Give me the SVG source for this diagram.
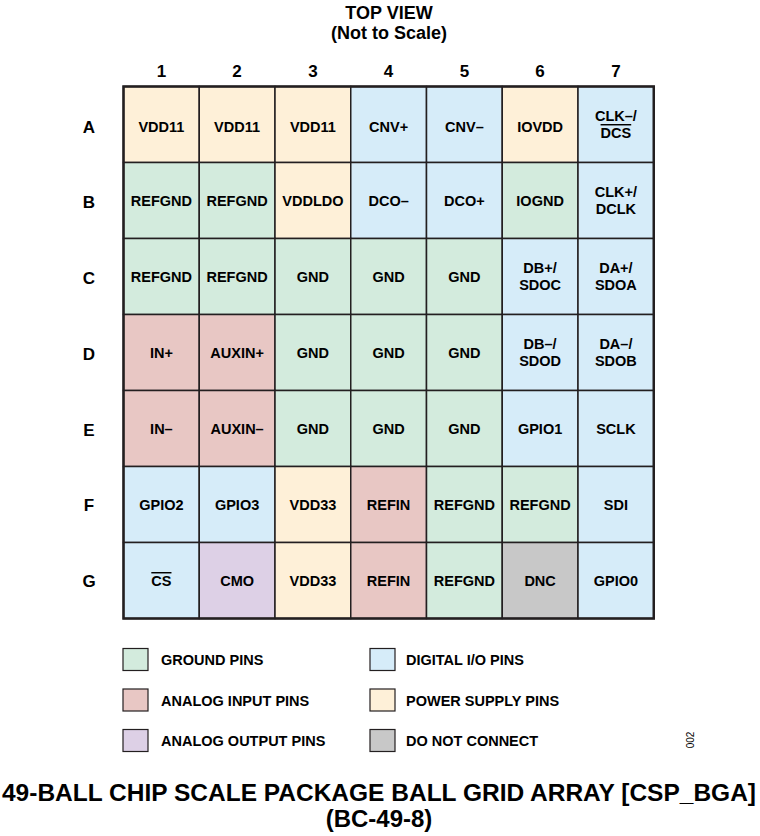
<svg xmlns="http://www.w3.org/2000/svg" width="760" height="836" viewBox="0 0 760 836">
<style>
text{font-family:"Liberation Sans",Arial,sans-serif;font-weight:bold;fill:#000}
.c{font-size:14.5px;text-anchor:middle}
.h{font-size:17px;text-anchor:middle}
.t{font-size:18px;text-anchor:middle}
.l{font-size:14.5px}
.cell{stroke:#231f20;stroke-width:1.5}
.pw{fill:#fef0d8}
.gd{fill:#d3ebdd}
.dg{fill:#d6ecf9}
.ai{fill:#e8c7c4}
.ao{fill:#ddd0e6}
.nc{fill:#c8c8c8}
.lb{stroke:#231f20;stroke-width:1.2}
.ov{text-decoration:overline}
</style>
<g id="title">
<text class="t" x="389" y="19">TOP VIEW</text>
<text class="t" x="389" y="39">(Not to Scale)</text>
</g>
<g id="col-labels">
<text class="h" x="161.4" y="77">1</text>
<text class="h" x="237.1" y="77">2</text>
<text class="h" x="312.9" y="77">3</text>
<text class="h" x="388.6" y="77">4</text>
<text class="h" x="464.4" y="77">5</text>
<text class="h" x="540.1" y="77">6</text>
<text class="h" x="615.9" y="77">7</text>
</g>
<g id="row-labels">
<text class="h" x="89" y="133">A</text>
<text class="h" x="89" y="208">B</text>
<text class="h" x="89" y="284">C</text>
<text class="h" x="89" y="360">D</text>
<text class="h" x="89" y="436">E</text>
<text class="h" x="89" y="511">F</text>
<text class="h" x="89" y="587">G</text>
</g>
<g id="grid">
<g id="A1"><rect class="cell pw" x="123.5" y="86.5" width="75.75" height="76"/><text class="c" x="161.4" y="132">VDD11</text></g>
<g id="A2"><rect class="cell pw" x="199.25" y="86.5" width="75.75" height="76"/><text class="c" x="237.1" y="132">VDD11</text></g>
<g id="A3"><rect class="cell pw" x="275" y="86.5" width="75.75" height="76"/><text class="c" x="312.9" y="132">VDD11</text></g>
<g id="A4"><rect class="cell dg" x="350.75" y="86.5" width="75.75" height="76"/><text class="c" x="388.6" y="132">CNV+</text></g>
<g id="A5"><rect class="cell dg" x="426.5" y="86.5" width="75.75" height="76"/><text class="c" x="464.4" y="132">CNV–</text></g>
<g id="A6"><rect class="cell pw" x="502.25" y="86.5" width="75.75" height="76"/><text class="c" x="540.1" y="132">IOVDD</text></g>
<g id="A7"><rect class="cell dg" x="578" y="86.5" width="75.75" height="76"/><text class="c" x="615.9" y="121">CLK–/</text><text class="c ov" x="615.9" y="138">DCS</text></g>

<g id="B1"><rect class="cell gd" x="123.5" y="162.5" width="75.75" height="76"/><text class="c" x="161.4" y="206">REFGND</text></g>
<g id="B2"><rect class="cell gd" x="199.25" y="162.5" width="75.75" height="76"/><text class="c" x="237.1" y="206">REFGND</text></g>
<g id="B3"><rect class="cell pw" x="275" y="162.5" width="75.75" height="76"/><text class="c" x="312.9" y="206">VDDLDO</text></g>
<g id="B4"><rect class="cell dg" x="350.75" y="162.5" width="75.75" height="76"/><text class="c" x="388.6" y="206">DCO–</text></g>
<g id="B5"><rect class="cell dg" x="426.5" y="162.5" width="75.75" height="76"/><text class="c" x="464.4" y="206">DCO+</text></g>
<g id="B6"><rect class="cell gd" x="502.25" y="162.5" width="75.75" height="76"/><text class="c" x="540.1" y="206">IOGND</text></g>
<g id="B7"><rect class="cell dg" x="578" y="162.5" width="75.75" height="76"/><text class="c" x="615.9" y="197">CLK+/</text><text class="c" x="615.9" y="214">DCLK</text></g>

<g id="C1"><rect class="cell gd" x="123.5" y="238.5" width="75.75" height="76"/><text class="c" x="161.4" y="282">REFGND</text></g>
<g id="C2"><rect class="cell gd" x="199.25" y="238.5" width="75.75" height="76"/><text class="c" x="237.1" y="282">REFGND</text></g>
<g id="C3"><rect class="cell gd" x="275" y="238.5" width="75.75" height="76"/><text class="c" x="312.9" y="282">GND</text></g>
<g id="C4"><rect class="cell gd" x="350.75" y="238.5" width="75.75" height="76"/><text class="c" x="388.6" y="282">GND</text></g>
<g id="C5"><rect class="cell gd" x="426.5" y="238.5" width="75.75" height="76"/><text class="c" x="464.4" y="282">GND</text></g>
<g id="C6"><rect class="cell dg" x="502.25" y="238.5" width="75.75" height="76"/><text class="c" x="540.1" y="273">DB+/</text><text class="c" x="540.1" y="290">SDOC</text></g>
<g id="C7"><rect class="cell dg" x="578" y="238.5" width="75.75" height="76"/><text class="c" x="615.9" y="273">DA+/</text><text class="c" x="615.9" y="290">SDOA</text></g>

<g id="D1"><rect class="cell ai" x="123.5" y="314.5" width="75.75" height="76"/><text class="c" x="161.4" y="358">IN+</text></g>
<g id="D2"><rect class="cell ai" x="199.25" y="314.5" width="75.75" height="76"/><text class="c" x="237.1" y="358">AUXIN+</text></g>
<g id="D3"><rect class="cell gd" x="275" y="314.5" width="75.75" height="76"/><text class="c" x="312.9" y="358">GND</text></g>
<g id="D4"><rect class="cell gd" x="350.75" y="314.5" width="75.75" height="76"/><text class="c" x="388.6" y="358">GND</text></g>
<g id="D5"><rect class="cell gd" x="426.5" y="314.5" width="75.75" height="76"/><text class="c" x="464.4" y="358">GND</text></g>
<g id="D6"><rect class="cell dg" x="502.25" y="314.5" width="75.75" height="76"/><text class="c" x="540.1" y="349">DB–/</text><text class="c" x="540.1" y="366">SDOD</text></g>
<g id="D7"><rect class="cell dg" x="578" y="314.5" width="75.75" height="76"/><text class="c" x="615.9" y="349">DA–/</text><text class="c" x="615.9" y="366">SDOB</text></g>

<g id="E1"><rect class="cell ai" x="123.5" y="390.5" width="75.75" height="76"/><text class="c" x="161.4" y="434">IN–</text></g>
<g id="E2"><rect class="cell ai" x="199.25" y="390.5" width="75.75" height="76"/><text class="c" x="237.1" y="434">AUXIN–</text></g>
<g id="E3"><rect class="cell gd" x="275" y="390.5" width="75.75" height="76"/><text class="c" x="312.9" y="434">GND</text></g>
<g id="E4"><rect class="cell gd" x="350.75" y="390.5" width="75.75" height="76"/><text class="c" x="388.6" y="434">GND</text></g>
<g id="E5"><rect class="cell gd" x="426.5" y="390.5" width="75.75" height="76"/><text class="c" x="464.4" y="434">GND</text></g>
<g id="E6"><rect class="cell dg" x="502.25" y="390.5" width="75.75" height="76"/><text class="c" x="540.1" y="434">GPIO1</text></g>
<g id="E7"><rect class="cell dg" x="578" y="390.5" width="75.75" height="76"/><text class="c" x="615.9" y="434">SCLK</text></g>

<g id="F1"><rect class="cell dg" x="123.5" y="466.5" width="75.75" height="76"/><text class="c" x="161.4" y="510">GPIO2</text></g>
<g id="F2"><rect class="cell dg" x="199.25" y="466.5" width="75.75" height="76"/><text class="c" x="237.1" y="510">GPIO3</text></g>
<g id="F3"><rect class="cell pw" x="275" y="466.5" width="75.75" height="76"/><text class="c" x="312.9" y="510">VDD33</text></g>
<g id="F4"><rect class="cell ai" x="350.75" y="466.5" width="75.75" height="76"/><text class="c" x="388.6" y="510">REFIN</text></g>
<g id="F5"><rect class="cell gd" x="426.5" y="466.5" width="75.75" height="76"/><text class="c" x="464.4" y="510">REFGND</text></g>
<g id="F6"><rect class="cell gd" x="502.25" y="466.5" width="75.75" height="76"/><text class="c" x="540.1" y="510">REFGND</text></g>
<g id="F7"><rect class="cell dg" x="578" y="466.5" width="75.75" height="76"/><text class="c" x="615.9" y="510">SDI</text></g>

<g id="G1"><rect class="cell dg" x="123.5" y="542.5" width="75.75" height="76"/><text class="c ov" x="161.4" y="586">CS</text></g>
<g id="G2"><rect class="cell ao" x="199.25" y="542.5" width="75.75" height="76"/><text class="c" x="237.1" y="586">CMO</text></g>
<g id="G3"><rect class="cell pw" x="275" y="542.5" width="75.75" height="76"/><text class="c" x="312.9" y="586">VDD33</text></g>
<g id="G4"><rect class="cell ai" x="350.75" y="542.5" width="75.75" height="76"/><text class="c" x="388.6" y="586">REFIN</text></g>
<g id="G5"><rect class="cell gd" x="426.5" y="542.5" width="75.75" height="76"/><text class="c" x="464.4" y="586">REFGND</text></g>
<g id="G6"><rect class="cell nc" x="502.25" y="542.5" width="75.75" height="76"/><text class="c" x="540.1" y="586">DNC</text></g>
<g id="G7"><rect class="cell dg" x="578" y="542.5" width="75.75" height="76"/><text class="c" x="615.9" y="586">GPIO0</text></g>
<rect x="123.5" y="86.5" width="530.25" height="532" fill="none" stroke="#231f20" stroke-width="2.5"/>
</g>
<g id="legend">
<g id="lg-ground"><rect class="lb gd" x="123" y="648.5" width="25" height="22"/><text class="l" x="161" y="665">GROUND PINS</text></g>
<g id="lg-ain"><rect class="lb ai" x="123" y="689" width="25" height="22"/><text class="l" x="161" y="705.5">ANALOG INPUT PINS</text></g>
<g id="lg-aout"><rect class="lb ao" x="123" y="729.5" width="25" height="22"/><text class="l" x="161" y="746">ANALOG OUTPUT PINS</text></g>
<g id="lg-dig"><rect class="lb dg" x="370" y="648.5" width="25" height="22"/><text class="l" x="406" y="665">DIGITAL I/O PINS</text></g>
<g id="lg-pwr"><rect class="lb pw" x="370" y="689" width="25" height="22"/><text class="l" x="406" y="705.5">POWER SUPPLY PINS</text></g>
<g id="lg-dnc"><rect class="lb nc" x="370" y="729.5" width="25" height="22"/><text class="l" x="406" y="746">DO NOT CONNECT</text></g>
</g>
<text x="694" y="740" font-size="10" style="font-weight:normal" text-anchor="middle" transform="rotate(-90 694 740)">002</text>
<g id="caption">
<text x="2" y="801" font-size="24" textLength="754" lengthAdjust="spacingAndGlyphs">49-BALL CHIP SCALE PACKAGE BALL GRID ARRAY [CSP_BGA]</text>
<text x="379" y="827" font-size="24" text-anchor="middle">(BC-49-8)</text>
</g>
</svg>
